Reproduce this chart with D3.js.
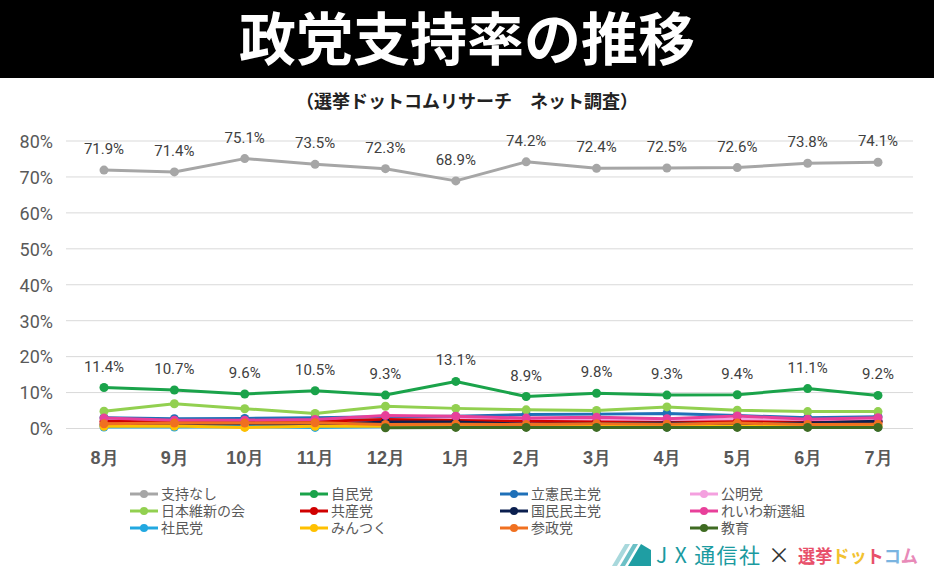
<!DOCTYPE html>
<html><head><meta charset="utf-8">
<script src="https://cdn.jsdelivr.net/npm/d3@7"></script>
<style>
body{margin:0;background:#fff;}
svg{display:block;font-family:"Noto Sans CJK JP","Noto Sans",sans-serif;}
</style></head><body>
<svg id="c" width="934" height="577"></svg>
<script>
const months = ["8月","9月","10月","11月","12月","1月","2月","3月","4月","5月","6月","7月"];
const yTicks = [0,10,20,30,40,50,60,70,80];
const seriesNames = ["支持なし","自民党","立憲民主党","公明党","日本維新の会","共産党","国民民主党","れいわ新選組","社民党","みんつく","参政党","教育"];
const seriesColors = ["#a6a6a6","#1aa34a","#1f70b8","#f4a0df","#92d050","#d00000","#0b1f4f","#e8409a","#22a8e0","#ffc000","#f07020","#3f6b22"];
const nashi   = [71.9,71.4,75.1,73.5,72.3,68.9,74.2,72.4,72.5,72.6,73.8,74.1];
const jimin   = [11.4,10.7,9.6,10.5,9.3,13.1,8.9,9.8,9.3,9.4,11.1,9.2];
const rikken  = [3.0,2.7,2.8,3.0,3.3,3.4,3.9,4.0,4.2,3.6,3.0,3.3];
const komei   = [1.5,1.8,1.5,1.7,2.5,2.6,2.3,2.3,2.2,2.6,2.0,2.2];
const ishin   = [4.8,6.9,5.5,4.2,6.2,5.6,5.2,5.0,6.0,5.1,4.7,4.7];
const kyosan  = [2.0,1.8,1.7,2.0,2.5,2.2,2.0,1.8,1.7,1.9,1.7,1.8];
const kokumin = [1.0,1.0,0.9,1.0,1.8,1.8,1.2,1.3,1.5,1.2,1.5,2.0];
const reiwa   = [2.9,2.3,2.3,2.5,3.6,3.4,2.9,3.1,2.7,3.5,2.6,3.0];
const shamin  = [0.4,0.4,0.5,0.3,0.5,0.6,0.5,0.5,0.4,0.5,0.5,0.4];
const mintsuku= [0.6,0.7,0.3,0.6,0.6,0.7,0.6,0.6,0.6,0.6,0.6,0.6];
const sansei  = [1.3,1.5,1.5,1.6,1.1,1.2,1.1,1.3,1.2,1.5,1.1,1.2];
const kyoiku  = [null,null,null,null,0.2,0.3,0.3,0.3,0.3,0.3,0.3,0.3];
const seriesValues = [nashi,jimin,rikken,komei,ishin,kyosan,kokumin,reiwa,shamin,mintsuku,sansei,kyoiku];

const svg = d3.select("#c");
// title banner
svg.append("rect").attr("x",0).attr("y",0).attr("width",934).attr("height",78).attr("fill","#000");
svg.append("text").attr("x",467).attr("y",60).attr("text-anchor","middle")
  .attr("fill","#fff").attr("font-size",57).attr("font-weight",700).text("政党支持率の推移");
svg.append("text").attr("x",467).attr("y",108).attr("text-anchor","middle")
  .attr("fill","#222").attr("font-size",18).attr("font-weight",700).text("（選挙ドットコムリサーチ　ネット調査）");

const x = d3.scalePoint().domain(months).range([104,878]);
const y = d3.scaleLinear().domain([0,80]).range([428.5,141]);

// grid
const grid = svg.append("g");
grid.selectAll("line").data(yTicks).join("line")
  .attr("x1",66).attr("x2",913).attr("y1",d=>y(d)).attr("y2",d=>y(d))
  .attr("stroke","#d9d9d9").attr("stroke-width",1);

// y axis
const yAxis = svg.append("g").attr("transform","translate(53,0)")
  .call(d3.axisLeft(y).tickValues(yTicks).tickFormat(d=>d+"%").tickSize(0).tickPadding(0));
yAxis.select(".domain").remove();
yAxis.selectAll("text").attr("font-size",18).attr("fill","#595959")
  .attr("font-family","Roboto,'Noto Sans',sans-serif").attr("dy","0.35em");

// x axis
const xAxis = svg.append("g").attr("transform","translate(0,458)")
  .call(d3.axisBottom(x).tickSize(0).tickPadding(0));
xAxis.select(".domain").remove();
xAxis.selectAll("text").attr("font-size",18).attr("fill","#595959").attr("font-weight",700).attr("dy","0.35em");

// lines
const lineFn = vals => d3.line().defined(d=>d.v!=null).x(d=>x(d.m)).y(d=>y(d.v))(vals.map((v,i)=>({m:months[i],v})));
const g = svg.append("g");
seriesValues.forEach((vals,si)=>{
  const pts = vals.map((v,i)=>({m:months[i],v})).filter(d=>d.v!=null);
  g.append("path").attr("d",lineFn(vals)).attr("fill","none")
    .attr("stroke",seriesColors[si]).attr("stroke-width",3).attr("stroke-linejoin","round");
  g.selectAll(null).data(pts).join("circle")
    .attr("cx",d=>x(d.m)).attr("cy",d=>y(d.v)).attr("r",4.5).attr("fill",seriesColors[si]);
});

// data labels
[nashi,jimin].forEach(vals=>{
  svg.append("g").selectAll("text").data(vals).join("text")
    .attr("x",(d,i)=>x(months[i])).attr("y",d=>y(d)-16)
    .attr("text-anchor","middle").attr("font-size",15).attr("fill","#404040")
    .attr("font-family","Roboto,'Noto Sans',sans-serif")
    .text(d=>d.toFixed(1)+"%");
});

// legend
const colX = [130,300,500,690];
const rowY = [494,511,528];
const leg = svg.append("g");
seriesNames.forEach((n,i)=>{
  const cx = colX[i%4], cy = rowY[Math.floor(i/4)];
  const gg = leg.append("g").attr("transform",`translate(${cx},${cy})`);
  gg.append("line").attr("x1",0).attr("x2",28).attr("y1",0).attr("y2",0)
    .attr("stroke",seriesColors[i]).attr("stroke-width",3);
  gg.append("circle").attr("cx",14).attr("cy",0).attr("r",4).attr("fill",seriesColors[i]);
  gg.append("text").attr("x",31).attr("y",0).attr("dy","0.35em")
    .attr("font-size",14).attr("fill","#595959").text(n);
});

// logo
const logo = svg.append("g");
logo.append("polygon").attr("points","628,566 641,544 651,550 651,566").attr("fill","#1f9ea3");
logo.append("polygon").attr("points","612,566 625,544 630,544 617,566").attr("fill","#a8d8dc");
logo.append("polygon").attr("points","620,566 633,544 638,544 625,566").attr("fill","#6cc0c6");
logo.append("text").attr("x",656).attr("y",563).attr("font-size",21).attr("fill","#1a9aa0")
  .attr("textLength",104).text("J X 通信社");
logo.append("text").attr("x",768).attr("y",563).attr("font-size",22).attr("fill","#333").text("×");
const dot = logo.append("text").attr("x",798).attr("y",563).attr("font-size",18).attr("font-weight",700)
  .attr("textLength",120).attr("lengthAdjust","spacingAndGlyphs");
dot.append("tspan").attr("fill","#e8506a").text("選挙");
dot.append("tspan").attr("fill","#f2c230").text("ドッ");
dot.append("tspan").attr("fill","#e8506a").text("ト");
dot.append("tspan").attr("fill","#7ab4e0").text("コ");
dot.append("tspan").attr("fill","#e88ab8").text("ム");
</script>
</body></html>
